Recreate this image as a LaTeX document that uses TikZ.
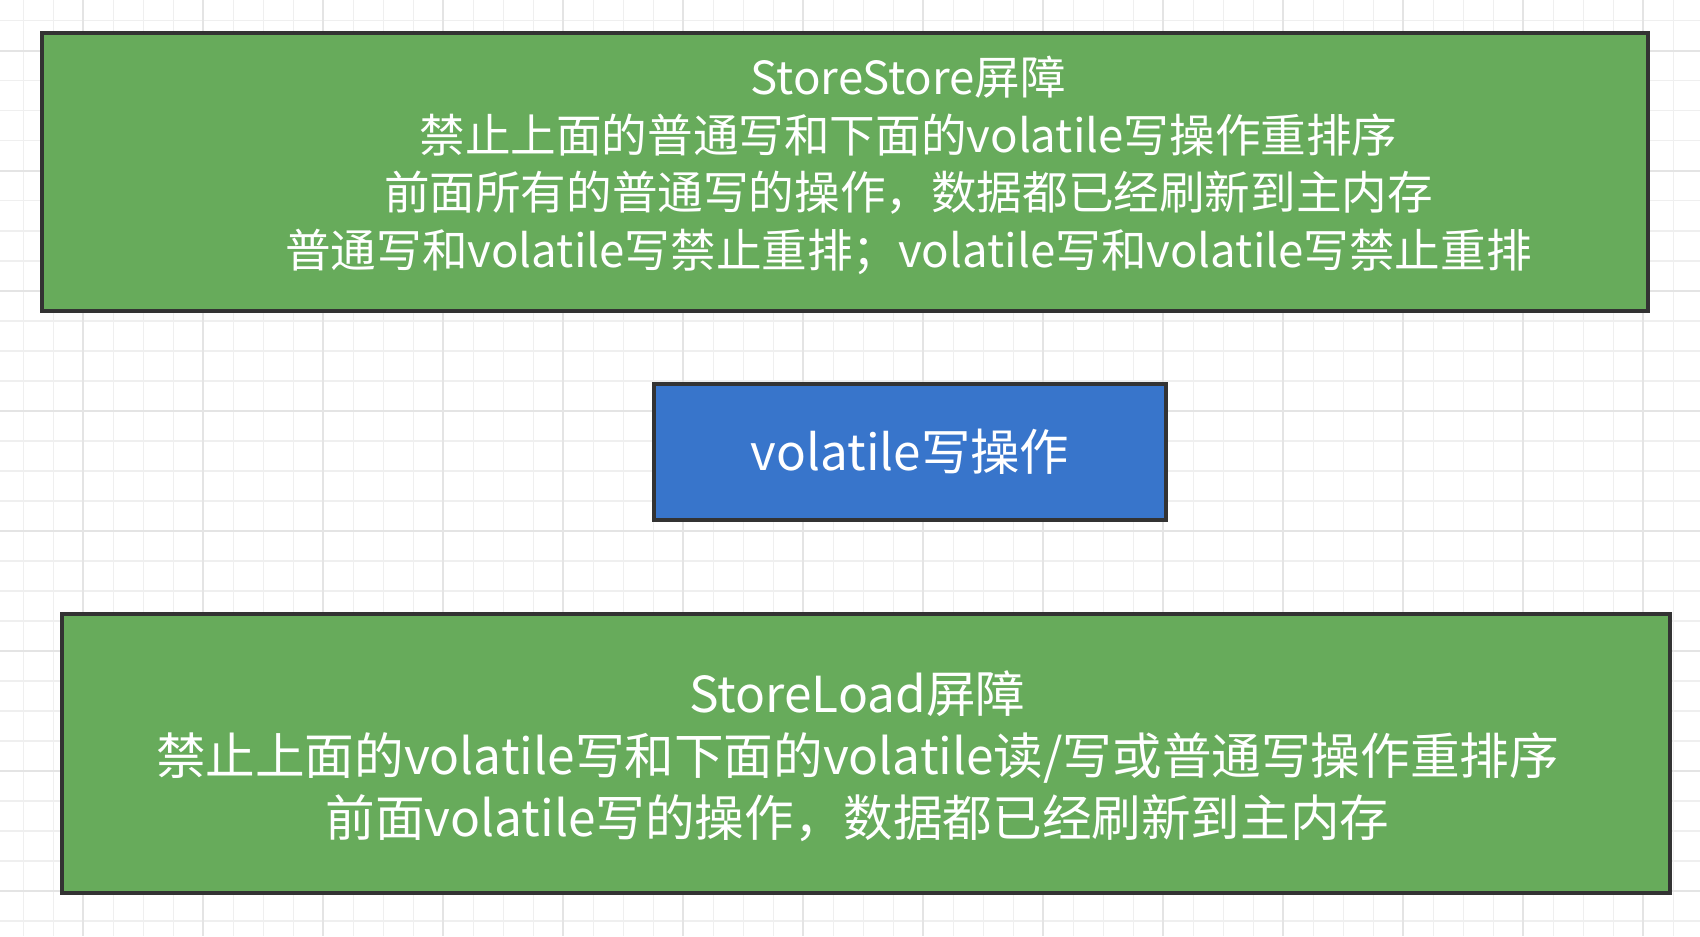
\documentclass[tikz,border=0pt]{standalone}
\usepackage{fontspec}
\setmainfont{Noto Sans CJK SC}
\definecolor{barrgreen}{HTML}{67AB5B}
\definecolor{opblue}{HTML}{3875CB}
\definecolor{edgegray}{HTML}{333333}
\definecolor{gridthin}{HTML}{EFEFEF}
\definecolor{gridthick}{HTML}{E4E4E4}
\begin{document}
\begin{tikzpicture}[x=0.5pt,y=-0.5pt,
box/.style={%
draw=edgegray,
line width=2pt,
inner sep=0pt,
},
barrier/.style={%
box,
fill=barrgreen,
minimum width=803pt,
minimum height=139pt,
},
op/.style={%
box,
fill=opblue,
minimum width=256pt,
minimum height=68pt,
font={\color{white}\fontsize{24.7pt}{30pt}\selectfont},
},
txt/.style={%
align=center,
inner sep=0pt,
text=white,
}
]
\useasboundingbox (0,0) rectangle (1700,936);

%grid
\foreach \gx in {0,...,56}
  \draw[gridthin,line width=0.8pt] (23.3+30*\gx,0) -- (23.3+30*\gx,936);
\foreach \gy in {0,...,30}
  \draw[gridthin,line width=0.8pt] (0,20.7+30*\gy) -- (1700,20.7+30*\gy);
\foreach \gx in {0,...,13}
  \draw[gridthick,line width=1.1pt] (83.3+120*\gx,0) -- (83.3+120*\gx,936);
\foreach \gy in {0,...,7}
  \draw[gridthick,line width=1.1pt] (0,50.7+120*\gy) -- (1700,50.7+120*\gy);

%StoreStore
\node[barrier](ssbox)at(844.5,172){};
\node[txt,font={\fontsize{22.8pt}{28.75pt}\selectfont}](sstext)at(908.5,165.5){%
StoreStore屏障\\
禁止上面的普通写和下面的volatile写操作重排序\\
前面所有的普通写的操作，数据都已经刷新到主内存\\
普通写和volatile写禁止重排；volatile写和volatile写禁止重排};

%volatile write
\node[op](wbox)at(910,452){volatile写操作};

%StoreLoad
\node[barrier,minimum width=804pt,minimum height=139.5pt](slbox)at(866,753.5){};
\node[txt,font={\fontsize{24.8pt}{31pt}\selectfont}](sltext)at(857.5,756.5){%
StoreLoad屏障\\
禁止上面的volatile写和下面的volatile读/写或普通写操作重排序\\
前面volatile写的操作，数据都已经刷新到主内存};
\end{tikzpicture}
\end{document}
